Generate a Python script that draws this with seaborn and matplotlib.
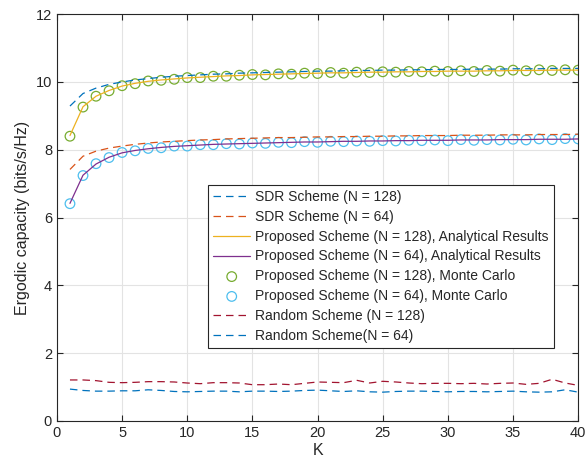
import numpy as np
import pandas as pd
import seaborn as sns
import matplotlib
matplotlib.use("Agg")
import matplotlib.pyplot as plt

K = list(range(1, 41))

sdr_128 = [9.29, 9.66, 9.82, 9.93, 10.00, 10.06, 10.10, 10.14, 10.17, 10.19,
           10.21, 10.23, 10.24, 10.26, 10.27, 10.28, 10.29, 10.30, 10.31, 10.32,
           10.32, 10.33, 10.34, 10.34, 10.35, 10.35, 10.36, 10.36, 10.37, 10.37,
           10.37, 10.38, 10.38, 10.38, 10.39, 10.39, 10.39, 10.40, 10.40, 10.40]
sdr_64 = [7.42, 7.81, 7.96, 8.05, 8.11, 8.16, 8.20, 8.23, 8.25, 8.27,
          8.29, 8.30, 8.32, 8.33, 8.34, 8.35, 8.36, 8.36, 8.37, 8.38,
          8.38, 8.39, 8.39, 8.40, 8.40, 8.41, 8.41, 8.42, 8.42, 8.42,
          8.43, 8.43, 8.43, 8.44, 8.44, 8.44, 8.45, 8.45, 8.45, 8.46]
prop_128 = [8.42, 9.27, 9.58, 9.75, 9.88, 9.96, 10.02, 10.06, 10.09, 10.12,
            10.14, 10.16, 10.18, 10.19, 10.21, 10.22, 10.23, 10.24, 10.25, 10.26,
            10.27, 10.27, 10.28, 10.29, 10.29, 10.30, 10.30, 10.31, 10.31, 10.32,
            10.32, 10.32, 10.33, 10.33, 10.34, 10.34, 10.34, 10.35, 10.35, 10.35]
prop_64 = [6.42, 7.25, 7.58, 7.78, 7.91, 7.98, 8.03, 8.07, 8.10, 8.12,
           8.14, 8.16, 8.17, 8.18, 8.19, 8.20, 8.21, 8.22, 8.23, 8.23,
           8.24, 8.25, 8.25, 8.26, 8.26, 8.27, 8.27, 8.28, 8.28, 8.28,
           8.29, 8.29, 8.29, 8.30, 8.30, 8.30, 8.31, 8.31, 8.31, 8.32]
mc_128 = [8.40, 9.26, 9.58, 9.74, 9.89, 9.95, 10.03, 10.05, 10.08, 10.13,
          10.13, 10.17, 10.17, 10.20, 10.22, 10.21, 10.24, 10.23, 10.26, 10.25,
          10.28, 10.26, 10.29, 10.28, 10.30, 10.29, 10.31, 10.30, 10.32, 10.31,
          10.33, 10.31, 10.34, 10.32, 10.35, 10.33, 10.36, 10.34, 10.36, 10.35]
mc_64 = [6.41, 7.24, 7.59, 7.77, 7.92, 7.97, 8.04, 8.06, 8.11, 8.11,
         8.15, 8.15, 8.18, 8.17, 8.20, 8.19, 8.22, 8.21, 8.24, 8.22,
         8.25, 8.24, 8.26, 8.25, 8.27, 8.26, 8.28, 8.27, 8.29, 8.27,
         8.30, 8.28, 8.30, 8.29, 8.31, 8.29, 8.32, 8.30, 8.33, 8.32]
rand_128 = [1.21, 1.21, 1.19, 1.14, 1.13, 1.14, 1.16, 1.16, 1.15, 1.12,
            1.10, 1.13, 1.13, 1.12, 1.07, 1.07, 1.09, 1.07, 1.11, 1.15,
            1.14, 1.13, 1.20, 1.12, 1.17, 1.15, 1.12, 1.10, 1.11, 1.11,
            1.10, 1.11, 1.09, 1.11, 1.12, 1.08, 1.11, 1.23, 1.12, 1.05]
rand_64 = [0.94, 0.90, 0.88, 0.88, 0.89, 0.89, 0.92, 0.90, 0.87, 0.86,
           0.87, 0.88, 0.88, 0.86, 0.88, 0.88, 0.87, 0.88, 0.90, 0.91,
           0.89, 0.87, 0.89, 0.86, 0.85, 0.87, 0.88, 0.88, 0.87, 0.86,
           0.87, 0.87, 0.86, 0.87, 0.88, 0.86, 0.85, 0.86, 0.92, 0.85]

labels = ["SDR Scheme (N = 128)", "SDR Scheme (N = 64)",
          "Proposed Scheme (N = 128), Analytical Results",
          "Proposed Scheme (N = 64), Analytical Results",
          "Proposed Scheme (N = 128), Monte Carlo",
          "Proposed Scheme (N = 64), Monte Carlo",
          "Random Scheme (N = 128)", "Random Scheme(N = 64)"]

sns.set_theme(style="ticks")
plt.rcParams['font.family'] = ['Liberation Sans', 'DejaVu Sans']

fig = plt.figure(figsize=(5.87, 4.73), dpi=100)
ax = fig.add_axes([0.097, 0.110, 0.888, 0.860])

c_blue = "#0072BD"
c_orange = "#D95319"
c_yellow = "#EDB120"
c_purple = "#7E2F8E"
c_green = "#77AC30"
c_cyan = "#4DBEEE"
c_red = "#A2142F"

dash = (6, 4)
sns.lineplot(x=K, y=sdr_128, ax=ax, color=c_blue, lw=0.9, label=labels[0])
sns.lineplot(x=K, y=sdr_64, ax=ax, color=c_orange, lw=0.9, label=labels[1])
sns.lineplot(x=K, y=prop_128, ax=ax, color=c_yellow, lw=0.9, label=labels[2])
sns.lineplot(x=K, y=prop_64, ax=ax, color=c_purple, lw=0.9, label=labels[3])
sns.scatterplot(x=K, y=mc_128, ax=ax, marker='o', s=48, facecolor='none',
                edgecolor=c_green, linewidth=0.9, label=labels[4])
sns.scatterplot(x=K, y=mc_64, ax=ax, marker='o', s=48, facecolor='none',
                edgecolor=c_cyan, linewidth=0.9, label=labels[5])
sns.lineplot(x=K, y=rand_128, ax=ax, color=c_red, lw=0.9, label=labels[6])
sns.lineplot(x=K, y=rand_64, ax=ax, color=c_blue, lw=0.9, label=labels[7])

for ln in ax.lines:
    if ln.get_label() in (labels[0], labels[1], labels[6], labels[7]):
        ln.set_dashes(dash)

ax.set_xlim(0, 40)
ax.set_ylim(0, 12)
ax.set_xticks(range(0, 41, 5))
ax.set_yticks(range(0, 13, 2))
ax.grid(True, color='#e3e3e3', lw=0.8)
ax.set_axisbelow(True)
for s in ax.spines.values():
    s.set_color('#262626')
    s.set_linewidth(0.8)
ax.tick_params(direction='in', length=4, width=0.8, colors='#262626',
               labelsize=10.5, top=True, right=True, labelcolor='#262626')
ax.set_xlabel("K", fontsize=11.5, color='#262626', labelpad=2)
ax.set_ylabel("Ergodic capacity (bits/s/Hz)", fontsize=11.5, color='#262626', labelpad=4)

handles, labs = ax.get_legend_handles_labels()
leg = ax.legend(handles, labs, loc='upper left', bbox_to_anchor=(0.290, 0.580),
                fontsize=10, frameon=True, fancybox=False, edgecolor='#262626',
                framealpha=1, borderpad=0.35, labelspacing=0.42, handlelength=2.7,
                handletextpad=0.35, borderaxespad=0)
leg.get_frame().set_linewidth(0.8)

fig.savefig("out.png", dpi=100)
